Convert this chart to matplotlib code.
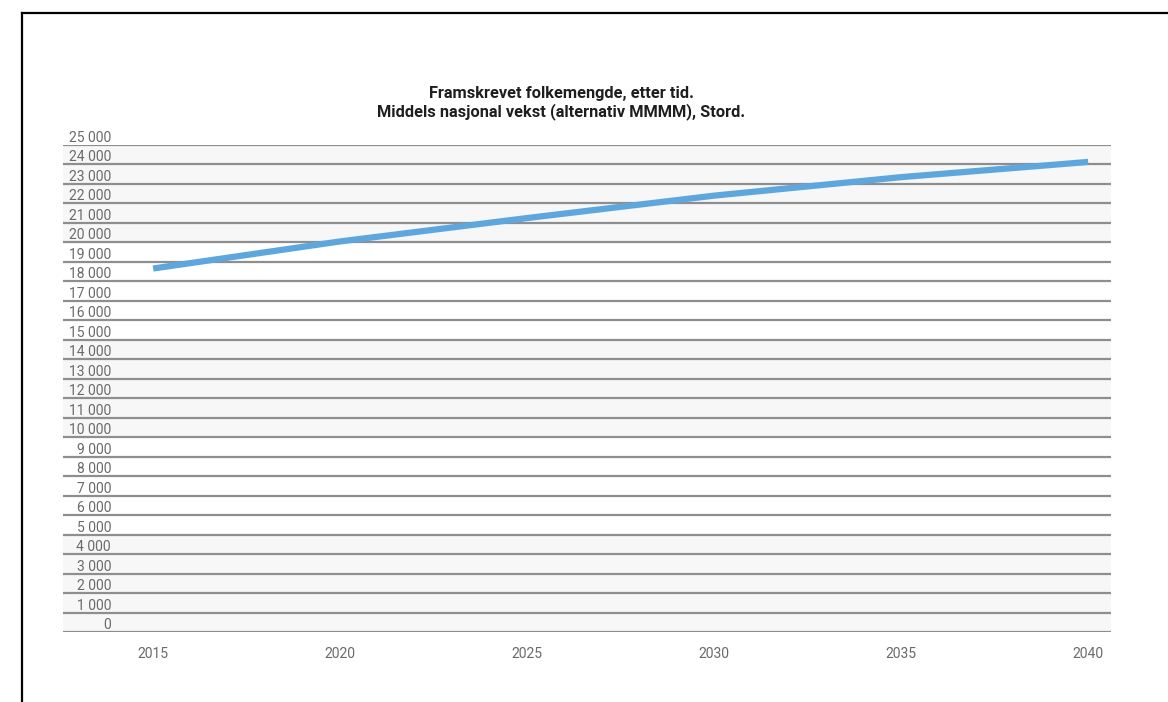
import matplotlib
matplotlib.use("Agg")
import matplotlib.pyplot as plt
from matplotlib.lines import Line2D

years = [2015, 2020, 2025, 2030, 2035, 2040]
population = [18660, 20050, 21250, 22400, 23350, 24130]
y_ticks = list(range(0, 25001, 1000))
y_labels = [f"{v:,}".replace(",", " ") for v in y_ticks]
x_ticks = [2015, 2020, 2025, 2030, 2035, 2040]
title = "Framskrevet folkemengde, etter tid.\nMiddels nasjonal vekst (alternativ MMMM), Stord."

W, H = 1168, 702
fig = plt.figure(figsize=(W / 100, H / 100), dpi=100)
fig.patch.set_facecolor("white")

ax = fig.add_axes([63 / W, 1 - 632 / H, (1111 - 63) / W, (632 - 145) / H])
ax.set_facecolor("white")

# alternating 5000-blocks
for lo in range(0, 25000, 5000):
    if (lo // 5000) % 2 == 0:
        ax.axhspan(lo, lo + 5000, color="#f7f7f7", lw=0, zorder=0.5)

for v in y_ticks:
    ax.axhline(v, color="#8e8e8e", lw=1.6, zorder=1)

ax.plot(years, population, color="#5ea7dd", lw=4.5, solid_capstyle="butt", zorder=3)

ax.set_xlim(2012.59, 2040.61)
ax.set_ylim(0, 25000)

ax.set_yticks(y_ticks)
ax.set_yticklabels(y_labels)
ax.tick_params(axis="y", length=0, pad=-34.6, labelcolor="#6a6a6a", labelsize=10)
for lab in ax.get_yticklabels():
    lab.set_va("bottom")
    lab.set_fontfamily("Roboto")

ax.set_xticks(x_ticks)
ax.set_xticklabels([str(x) for x in x_ticks])
ax.tick_params(axis="x", length=0, pad=11, labelcolor="#6a6a6a", labelsize=10)
for lab in ax.get_xticklabels():
    lab.set_fontfamily("Roboto")

for s in ax.spines.values():
    s.set_visible(False)

fig.text(561 / W, 1 - 103 / H, title, ha="center", va="center", fontsize=11.8,
         fontweight="bold", family="Roboto", color="#1e1e1e", linespacing=1.12)

# frame (left and top edges)
fig.add_artist(Line2D([21.5 / W, 21.5 / W], [0, 1 - 13 / H], color="black", lw=1.6,
                      transform=fig.transFigure))
fig.add_artist(Line2D([21.5 / W, 1], [1 - 13 / H, 1 - 13 / H], color="black", lw=1.6,
                      transform=fig.transFigure))

fig.savefig("out.png", dpi=100)
